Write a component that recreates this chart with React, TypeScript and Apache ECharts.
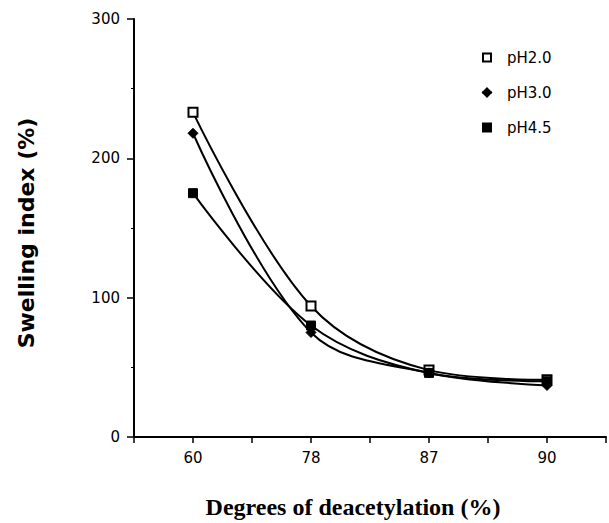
import React, { useEffect, useRef } from "react";
import * as echarts from "echarts";

const categories = ["60", "78", "87", "90"];
const pH20 = [233, 94, 48, 41];
const pH30 = [218, 75, 46, 37];
const pH45 = [175, 80, 46, 40];
const seriesNames = ["pH2.0", "pH3.0", "pH4.5"];

export default function App() {
  const ref = useRef<HTMLDivElement>(null);
  useEffect(() => {
    const chart = echarts.init(ref.current!, null, { renderer: "svg" });
    const toPts = (arr: number[]) => arr.map((v, i) => [i, v]);
    const lineStyle = { color: "#000", width: 2 };
    const font = "'DejaVu Sans', sans-serif";
    chart.setOption({
      animation: false,
      backgroundColor: "#fff",
      grid: { left: 134, right: 0, top: 19, bottom: 86 },
      legend: {
        orient: "vertical",
        left: 476,
        top: 45,
        itemGap: 20,
        itemWidth: 10,
        itemHeight: 10,
        textStyle: { fontFamily: font, fontSize: 15, color: "#000", padding: [0, 0, 0, 10] },
        data: seriesNames.map((n) => ({ name: n })),
      },
      xAxis: {
        type: "value",
        min: -0.5,
        max: 3.5,
        interval: 0.5,
        splitLine: { show: false },
        axisLine: { show: true, onZero: false, lineStyle: { color: "#000", width: 2 } },
        axisTick: { show: true, length: 6, lineStyle: { color: "#000", width: 1.5 } },
        axisLabel: {
          color: "#000",
          fontFamily: font,
          fontSize: 15,
          margin: 13,
          showMinLabel: true,
          showMaxLabel: true,
          formatter: (v: number) => (Number.isInteger(v) && v >= 0 && v < categories.length ? categories[v] : ""),
        },
      },
      yAxis: {
        type: "value",
        min: 0,
        max: 300,
        interval: 100,
        splitLine: { show: false },
        axisLine: { show: true, onZero: false, lineStyle: { color: "#000", width: 2 } },
        axisTick: { show: true, length: 7, lineStyle: { color: "#000", width: 1.5 } },
        minorTick: { show: true, splitNumber: 2, length: 3, lineStyle: { color: "#000", width: 1 } },
        axisLabel: { color: "#000", fontFamily: font, fontSize: 15, margin: 14 },
      },
      graphic: [
        {
          type: "text",
          x: 26,
          y: 233,
          rotation: Math.PI / 2,
          style: {
            text: "Swelling index (%)",
            fontFamily: font,
            fontWeight: "bold",
            fontSize: 22,
            fill: "#000",
            align: "center",
            verticalAlign: "middle",
          },
        },
        {
          type: "text",
          x: 353,
          y: 507,
          style: {
            text: "Degrees of deacetylation (%)",
            fontFamily: "'Liberation Serif', serif",
            fontWeight: "bold",
            fontSize: 24,
            fill: "#000",
            align: "center",
            verticalAlign: "middle",
          },
        },
      ],
      series: [
        {
          name: seriesNames[0],
          type: "line",
          smooth: 0.35,
          data: toPts(pH20),
          symbol: "rect",
          symbolSize: 9,
          itemStyle: { color: "#fff", borderColor: "#000", borderWidth: 2 },
          lineStyle,
        },
        {
          name: seriesNames[1],
          type: "line",
          smooth: 0.35,
          data: toPts(pH30),
          symbol: "diamond",
          symbolSize: 10,
          itemStyle: { color: "#000", borderColor: "#000", borderWidth: 1 },
          lineStyle,
        },
        {
          name: seriesNames[2],
          type: "line",
          smooth: 0.35,
          data: toPts(pH45),
          symbol: "rect",
          symbolSize: 9,
          itemStyle: { color: "#000", borderColor: "#000", borderWidth: 1 },
          lineStyle,
        },
      ],
    });
    return () => chart.dispose();
  }, []);
  return <div ref={ref} style={{ width: 609, height: 523, position: "absolute", left: 0, top: 0 }} />;
}
